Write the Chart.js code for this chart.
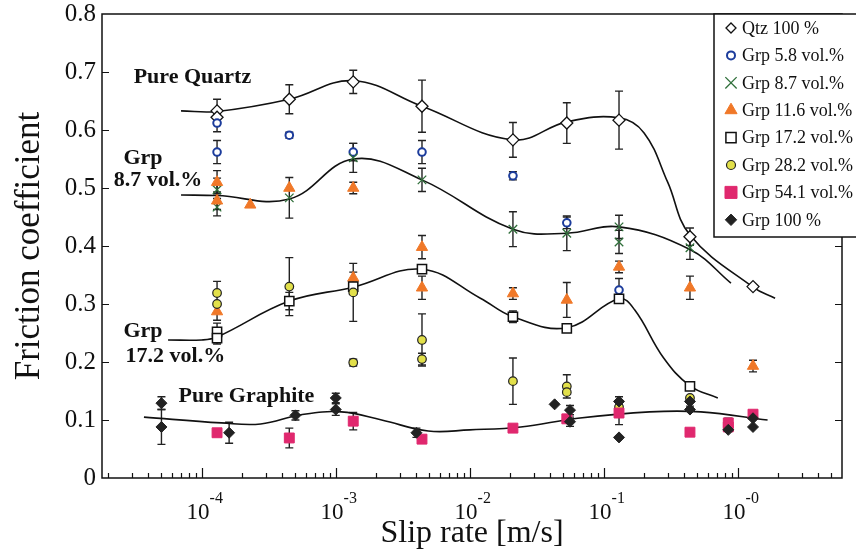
<!DOCTYPE html>
<html>
<head>
<meta charset="utf-8">
<script src="https://cdn.jsdelivr.net/npm/chart.js@4.4.1/dist/chart.umd.min.js"></script>
<style>
  html, body { margin: 0; padding: 0; background: #fff; }
  #chart { display: block; }
</style>
</head>
<body>
<canvas id="chart" width="856" height="557"></canvas>
<script>
const FONT = "'Liberation Serif', 'Times New Roman', serif";

/* 目盛 */
const xTickValues = [1e-4, 1e-3, 1e-2, 1e-1, 1];
const xTickSupers = ["-4", "-3", "-2", "-1", "-0"];

/* 測定値 (x: すべり速度, y: 摩擦係数, err: 誤差幅) */
const qtzX = [1.3e-4, 1.3e-4, 4.5e-4, 1.35e-3, 4.4e-3, 0.021, 0.053, 0.13, 0.44, 1.3];
const qtzY = [0.633, 0.622, 0.653, 0.683, 0.641, 0.583, 0.612, 0.617, 0.416, 0.33];
const qtzErr = [0.02, 0, 0.025, 0.02, 0.045, 0.03, 0.035, 0.05, 0.015, 0];

const g58X = [1.3e-4, 1.3e-4, 4.5e-4, 1.35e-3, 4.4e-3, 0.021, 0.053, 0.13];
const g58Y = [0.612, 0.562, 0.591, 0.562, 0.562, 0.521, 0.44, 0.324];
const g58Err = [0.015, 0.02, 0.005, 0.015, 0.02, 0.007, 0.01, 0.02];

const g87X = [1.3e-4, 1.3e-4, 4.5e-4, 1.35e-3, 4.4e-3, 0.021, 0.053, 0.13, 0.13, 0.44];
const g87Y = [0.497, 0.467, 0.483, 0.552, 0.514, 0.429, 0.422, 0.433, 0.407, 0.397];
const g87Err = [0.02, 0.015, 0.035, 0.025, 0.02, 0.03, 0.03, 0.02, 0.02, 0.02];

const g116X = [1.3e-4, 1.3e-4, 1.3e-4, 2.3e-4, 4.5e-4, 1.35e-3, 1.35e-3, 4.4e-3, 4.4e-3, 0.021, 0.053, 0.13, 0.44, 1.3];
const g116Y = [0.51, 0.478, 0.287, 0.471, 0.5, 0.5, 0.345, 0.398, 0.328, 0.318, 0.307, 0.364, 0.328, 0.193];
const g116Err = [0.02, 0.015, 0.015, 0, 0, 0.01, 0.01, 0.02, 0.02, 0.01, 0.03, 0.01, 0.02, 0.01];

const g172X = [1.3e-4, 1.3e-4, 4.5e-4, 1.35e-3, 4.4e-3, 0.021, 0.053, 0.13, 0.44];
const g172Y = [0.252, 0.241, 0.305, 0.33, 0.36, 0.278, 0.258, 0.309, 0.158];
const g172Err = [0.015, 0.01, 0.015, 0.01, 0, 0.01, 0.005, 0.005, 0.005];

const g282X = [1.3e-4, 1.3e-4, 4.5e-4, 1.35e-3, 1.35e-3, 4.4e-3, 4.4e-3, 0.021, 0.053, 0.053, 0.13, 0.44];
const g282Y = [0.319, 0.3, 0.33, 0.32, 0.199, 0.238, 0.205, 0.167, 0.158, 0.148, 0.122, 0.138];
const g282Err = [0.02, 0, 0.05, 0.05, 0.006, 0.045, 0.01, 0.04, 0.02, 0, 0.01, 0];

const g541X = [1.3e-4, 4.5e-4, 1.35e-3, 4.4e-3, 0.021, 0.053, 0.13, 0.44, 0.85, 0.85, 1.3];
const g541Y = [0.078, 0.069, 0.098, 0.067, 0.086, 0.102, 0.112, 0.079, 0.095, 0.088, 0.11];
const g541Err = [0.006, 0.017, 0.015, 0.006, 0.006, 0, 0.02, 0, 0.008, 0, 0.006];

const g100X = [5e-5, 5e-5, 1.6e-4, 5e-4, 1.0e-3, 1.0e-3, 4.0e-3, 0.043, 0.056, 0.056, 0.13, 0.13, 0.44, 0.44, 0.85, 1.3, 1.3];
const g100Y = [0.129, 0.088, 0.078, 0.108, 0.138, 0.118, 0.078, 0.127, 0.117, 0.097, 0.132, 0.07, 0.132, 0.118, 0.083, 0.103, 0.088];
const g100Err = [0.011, 0.03, 0.018, 0.008, 0.008, 0.01, 0.008, 0, 0.008, 0.008, 0.008, 0, 0.008, 0, 0, 0, 0];

/* 近似曲線 */
const qtzFitX = [7e-5, 1.3e-4, 4.5e-4, 1.35e-3, 4.4e-3, 0.021, 0.053, 0.13, 0.2, 0.3, 0.44, 1.3, 1.9];
const qtzFitY = [0.633, 0.632, 0.653, 0.685, 0.641, 0.583, 0.614, 0.621, 0.595, 0.51, 0.419, 0.329, 0.31];

const g87FitX = [7e-5, 1.3e-4, 4.5e-4, 1.35e-3, 4.4e-3, 0.021, 0.053, 0.13, 0.44, 0.89];
const g87FitY = [0.488, 0.487, 0.481, 0.55, 0.514, 0.429, 0.422, 0.433, 0.394, 0.336];

const g172FitX = [5.6e-5, 1e-4, 1.3e-4, 4.5e-4, 1.35e-3, 4.4e-3, 0.012, 0.021, 0.053, 0.13, 0.17, 0.28, 0.44, 0.71];
const g172FitY = [0.238, 0.238, 0.243, 0.305, 0.329, 0.36, 0.31, 0.278, 0.259, 0.309, 0.29, 0.207, 0.159, 0.138];

const g100FitX = [3.7e-5, 1.4e-4, 2.75e-4, 5.5e-4, 1.1e-3, 2.2e-3, 4.9e-3, 0.01, 0.024, 0.064, 0.22, 0.53, 1.67];
const g100FitY = [0.105, 0.095, 0.093, 0.109, 0.114, 0.1, 0.081, 0.083, 0.088, 0.103, 0.114, 0.114, 0.1];

/* 曲線の注記 */
const curveLabels = [
  { text: "Pure Quartz", x: 3.1e-5, y: 0.691 },
  { text: "Grp", x: 2.6e-5, y: 0.552 },
  { text: "8.7 vol.%", x: 2.2e-5, y: 0.514 },
  { text: "Grp", x: 2.6e-5, y: 0.253 },
  { text: "17.2 vol.%", x: 2.7e-5, y: 0.21 },
  { text: "Pure Graphite", x: 6.7e-5, y: 0.141 }
];


function points(xs, ys) {
  return xs.map((x, i) => ({ x: x, y: ys[i] }));
}

function markerSet(label, xs, ys, err, style) {
  return Object.assign({
    label: label,
    data: points(xs, ys),
    err: err,
    showLine: false,
    order: 0
  }, style);
}

function fitLine(xs, ys) {
  return {
    label: "",
    data: points(xs, ys),
    showLine: true,
    fill: false,
    tension: 0.4,
    borderColor: "#111",
    borderWidth: 1.6,
    pointRadius: 0,
    order: 20
  };
}

const datasets = [
  fitLine(qtzFitX, qtzFitY),
  fitLine(g87FitX, g87FitY),
  fitLine(g172FitX, g172FitY),
  fitLine(g100FitX, g100FitY),
  markerSet("Grp 100 %", g100X, g100Y, g100Err,
    { pointStyle: "rectRot", pointRadius: 5.5, backgroundColor: "#222", borderColor: "#222", borderWidth: 1, legendRadius: 5.7 }),
  markerSet("Grp 54.1 vol.%", g541X, g541Y, g541Err,
    { pointStyle: "rect", pointRadius: 7, backgroundColor: "#e0286e", borderColor: "#e0286e", borderWidth: 1, legendRadius: 8.5 }),
  markerSet("Grp 28.2 vol.%", g282X, g282Y, g282Err,
    { pointStyle: "circle", pointRadius: 4.3, backgroundColor: "#e2e04a", borderColor: "#222", borderWidth: 1.2, legendRadius: 4.5 }),
  markerSet("Grp 17.2 vol.%", g172X, g172Y, g172Err,
    { pointStyle: "rect", pointRadius: 6.5, backgroundColor: "#fff", borderColor: "#111", borderWidth: 1.5, legendRadius: 7.2 }),
  markerSet("Grp 11.6 vol.%", g116X, g116Y, g116Err,
    { pointStyle: "triangle", pointRadius: 6.5, backgroundColor: "#f07828", borderColor: "#f07828", borderWidth: 1, legendRadius: 7 }),
  markerSet("Grp 8.7 vol.%", g87X, g87Y, g87Err,
    { pointStyle: "crossRot", pointRadius: 6, backgroundColor: "#2f6f3a", borderColor: "#2f6f3a", borderWidth: 1.3, legendRadius: 8 }),
  markerSet("Grp 5.8 vol.%", g58X, g58Y, g58Err,
    { pointStyle: "circle", pointRadius: 3.8, backgroundColor: "#fff", borderColor: "#1c3c9c", borderWidth: 2, legendRadius: 4 }),
  markerSet("Qtz 100 %", qtzX, qtzY, qtzErr,
    { pointStyle: "rectRot", pointRadius: 6, backgroundColor: "#fff", borderColor: "#111", borderWidth: 1.3, legendRadius: 5 })
];

/* 凡例の並び */
const legendOrder = ["Qtz 100 %", "Grp 5.8 vol.%", "Grp 8.7 vol.%", "Grp 11.6 vol.%",
  "Grp 17.2 vol.%", "Grp 28.2 vol.%", "Grp 54.1 vol.%", "Grp 100 %"];


/* 誤差棒 */
const errorBars = {
  id: "errorBars",
  beforeDatasetsDraw(chart) {
    const ctx = chart.ctx;
    const xs = chart.scales.x, ys = chart.scales.y;
    ctx.save();
    ctx.strokeStyle = "#222";
    ctx.lineWidth = 1.4;
    chart.data.datasets.forEach(ds => {
      if (!ds.err) return;
      ds.data.forEach((p, i) => {
        const e = ds.err[i];
        if (!e) return;
        const px = xs.getPixelForValue(p.x);
        const y1 = ys.getPixelForValue(p.y + e);
        const y2 = ys.getPixelForValue(p.y - e);
        ctx.beginPath();
        ctx.moveTo(px, y1); ctx.lineTo(px, y2);
        ctx.moveTo(px - 4, y1); ctx.lineTo(px + 4, y1);
        ctx.moveTo(px - 4, y2); ctx.lineTo(px + 4, y2);
        ctx.stroke();
      });
    });
    ctx.restore();
  }
};


/* 枠・内向き目盛・横軸ラベル */
const frameTicks = {
  id: "frameTicks",
  afterDatasetsDraw(chart) {
    const ctx = chart.ctx;
    const a = chart.chartArea;
    const xs = chart.scales.x, ys = chart.scales.y;
    ctx.save();
    ctx.strokeStyle = "#111";
    ctx.lineWidth = 1.5;
    ctx.strokeRect(a.left, a.top, a.right - a.left, a.bottom - a.top);

    ctx.lineWidth = 1.2;
    ctx.beginPath();
    for (let e = -5; e <= 0; e++) {
      for (let k = 1; k <= 9; k++) {
        const v = k * Math.pow(10, e);
        if (v <= xs.min || v >= xs.max) continue;
        const px = Math.round(xs.getPixelForValue(v)) + 0.5;
        const len = k === 1 ? 10 : 5;
        ctx.moveTo(px, a.bottom);
        ctx.lineTo(px, a.bottom - len);
      }
    }
    for (let i = 1; i < 8; i++) {
      const py = Math.round(ys.getPixelForValue(i / 10)) + 0.5;
      ctx.moveTo(a.left, py); ctx.lineTo(a.left + 7, py);
      ctx.moveTo(a.right, py); ctx.lineTo(a.right - 7, py);
    }
    ctx.stroke();

    ctx.fillStyle = "#111";
    ctx.textBaseline = "alphabetic";
    xTickValues.forEach((v, i) => {
      const px = xs.getPixelForValue(v);
      ctx.font = "23px " + FONT;
      const wBase = ctx.measureText("10").width;
      ctx.font = "16px " + FONT;
      const wSup = ctx.measureText(xTickSupers[i]).width;
      const left = px - (wBase + wSup) / 2 + 3;
      ctx.font = "23px " + FONT;
      ctx.fillText("10", left, 519);
      ctx.font = "16px " + FONT;
      ctx.fillText(xTickSupers[i], left + wBase, 503);
    });

    ctx.font = "bold 22px " + FONT;
    ctx.textBaseline = "middle";
    curveLabels.forEach(l => {
      ctx.fillText(l.text, xs.getPixelForValue(l.x), ys.getPixelForValue(l.y));
    });
    ctx.restore();
  }
};


/* 凡例 */
const legendBox = {
  id: "legendBox",
  afterDraw(chart) {
    const ctx = chart.ctx;
    const a = chart.chartArea;
    const left = 714, top = a.top, bottom = 237;
    ctx.save();
    ctx.fillStyle = "#fff";
    ctx.fillRect(left, top, chart.width - left + 10, bottom - top);
    ctx.strokeStyle = "#111";
    ctx.lineWidth = 1.5;
    ctx.strokeRect(left, top, chart.width - left + 10, bottom - top);

    ctx.font = "18px " + FONT;
    ctx.textBaseline = "middle";
    legendOrder.forEach((name, i) => {
      const ds = chart.data.datasets.find(d => d.label === name);
      const y = 28 + i * 27.4;
      ctx.fillStyle = ds.backgroundColor;
      ctx.strokeStyle = ds.borderColor;
      ctx.lineWidth = ds.borderWidth;
      Chart.helpers.drawPoint(ctx, {
        pointStyle: ds.pointStyle,
        radius: ds.legendRadius,
        rotation: 0,
        borderWidth: ds.borderWidth
      }, 731, y);
      ctx.fillStyle = "#111";
      ctx.fillText(name, 742, y + 1);
    });
    ctx.restore();
  }
};


new Chart(document.getElementById("chart"), {
  type: "scatter",
  data: { datasets },
  options: {
    responsive: false,
    animation: false,
    events: [],
    layout: { padding: { top: 14, right: 14, left: 0, bottom: 0 } },
    plugins: {
      legend: { display: false },
      tooltip: { enabled: false }
    },
    scales: {
      x: {
        type: "logarithmic",
        min: 1.8e-5,
        max: 6,
        bounds: "data",
        grid: { display: false, drawTicks: false },
        border: { display: false },
        ticks: { display: false },
        title: {
          display: true,
          text: "Slip rate [m/s]",
          color: "#111",
          font: { family: FONT, size: 32 },
          padding: { top: 0, bottom: 4 }
        },
        afterFit: s => {
          s.height = 79;
          s.paddingLeft = 0; s.paddingRight = 0;
        }
      },
      y: {
        min: 0,
        max: 0.8,
        grid: { display: false, drawTicks: false },
        border: { display: false },
        ticks: {
          stepSize: 0.1,
          padding: 6,
          color: "#111",
          font: { family: FONT, size: 25 },
          callback: v => v === 0 ? "0" : v.toFixed(1)
        },
        title: {
          display: true,
          text: "Friction coefficient",
          color: "#111",
          font: { family: FONT, size: 35 },
          padding: { top: 9, bottom: 0 }
        },
        afterFit: s => {
          s.width = 102;
          s.paddingTop = 0; s.paddingBottom = 0;
        }
      }
    }
  },
  plugins: [errorBars, frameTicks, legendBox]
});
</script>
</body>
</html>
